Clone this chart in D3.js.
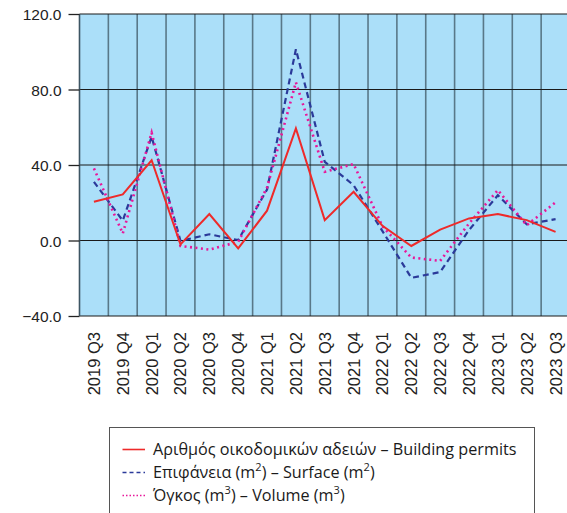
<!DOCTYPE html>
<html>
<head>
<meta charset="utf-8">
<script src="https://cdn.jsdelivr.net/npm/d3@7"></script>
<style>
  body { margin: 0; background: #fff; }
  svg { display: block; }
  .tick text { font-family: "Liberation Sans", Arial, sans-serif; fill: #222; }
</style>
</head>
<body>
<div id="chart"></div>
<script>
// Quarterly % change, building activity
const quarters = ["2019 Q3", "2019 Q4", "2020 Q1", "2020 Q2", "2020 Q3", "2020 Q4",
  "2021 Q1", "2021 Q2", "2021 Q3", "2021 Q4", "2022 Q1", "2022 Q2", "2022 Q3",
  "2022 Q4", "2023 Q1", "2023 Q2", "2023 Q3"];
const permits = [20.5, 24.4, 42.5, -2.1, 14.0, -4.2, 15.8, 59.4, 10.8, 25.8, 7.8, -2.9, 5.8, 11.7, 14.0, 10.8, 4.6];
const surface = [31.1, 10.5, 55.0, -0.2, 3.3, 0.2, 27.0, 101.3, 41.7, 29.3, 5.0, -19.8, -16.7, 5.5, 24.0, 8.6, 11.3];
const volume = [38.2, 3.7, 57.1, -2.9, -4.8, -0.7, 28.0, 83.8, 36.4, 40.5, 7.5, -9.0, -10.8, 9.0, 26.7, 8.1, 20.2];
const yTicks = [-40, 0, 40, 80, 120];

const W = 567, H = 513;
const margin = { top: 14, left: 79.5, right: -3, bottom: 197 };
const width = W - margin.left - margin.right,
  height = H - margin.top - margin.bottom;

const svg = d3.select("#chart").append("svg")
  .attr("width", W).attr("height", H);

const g = svg.append("g")
  .attr("transform", "translate(" + margin.left + "," + margin.top + ")");

const xScale = d3.scaleBand().domain(quarters).range([0, width]);
const yScale = d3.scaleLinear().domain([-40, 120]).range([height, 0]);

// plot background
g.append("rect")
  .attr("width", width).attr("height", height)
  .attr("fill", "#abdff9");

// vertical grid between quarters
g.selectAll(".vgrid")
  .data(quarters.slice(1))
  .join("line")
    .attr("class", "vgrid")
    .attr("x1", d => xScale(d)).attr("x2", d => xScale(d))
    .attr("y1", 0).attr("y2", height)
    .attr("stroke", "#3d5563").attr("stroke-opacity", 0.75).attr("stroke-width", 1.6);

// horizontal grid
g.selectAll(".hgrid")
  .data(yTicks)
  .join("line")
    .attr("class", "hgrid")
    .attr("x1", 0).attr("x2", width)
    .attr("y1", d => yScale(d)).attr("y2", d => yScale(d))
    .attr("stroke", "#1a1a1a").attr("stroke-width", 1.1);

// left border
g.append("line")
  .attr("x1", 0).attr("x2", 0).attr("y1", 0).attr("y2", height)
  .attr("stroke", "#3d5563").attr("stroke-width", 1.6);

// Y axis
const yAxis = g.append("g")
  .call(d3.axisLeft(yScale).tickValues(yTicks).tickSize(11).tickPadding(7)
    .tickFormat(d3.format(".1f")));
yAxis.select(".domain").remove();
yAxis.selectAll(".tick line").attr("stroke", "#222").attr("stroke-width", 1.3);
yAxis.selectAll("text").attr("font-size", 15.5).attr("dy", "0.36em");

// X axis labels (rotated)
const xAxis = g.append("g")
  .attr("transform", "translate(0," + height + ")")
  .call(d3.axisBottom(xScale).tickSize(0));
xAxis.select(".domain").remove();
xAxis.selectAll("text")
  .attr("font-size", 16.5)
  .style("text-anchor", "end")
  .attr("transform", "rotate(-90)")
  .attr("x", -16).attr("y", 0).attr("dy", "0.36em");

const X = (d, i) => xScale(quarters[i]) + xScale.bandwidth() / 2;
const line = d3.line().x((d, i) => X(d, i)).y(d => yScale(d));

const series = [
  { values: surface, color: "#2b3a9a", dash: "6,4", width: 2.2 },
  { values: volume, color: "#e8179a", dash: "2,3.5", width: 2.6 },
  { values: permits, color: "#ee2a2a", dash: null, width: 2 }
];

series.forEach(s => {
  g.append("path")
    .attr("d", line(s.values))
    .attr("fill", "none")
    .attr("stroke", s.color)
    .attr("stroke-width", s.width)
    .attr("stroke-dasharray", s.dash);
});

// Legend
const legend = svg.append("g");
legend.append("rect")
  .attr("x", 109.5).attr("y", 427.5).attr("width", 425).attr("height", 100)
  .attr("fill", "#fff").attr("stroke", "#555").attr("stroke-width", 1);

const legendItems = [
  { color: "#ee2a2a", dash: null, w: 1.6, parts: [["Αριθμός οικοδομικών αδειών – Building permits"]] },
  { color: "#2b3a9a", dash: "4,3", w: 1.6, parts: [["Επιφάνεια (m"], ["2", true], [") – Surface (m"], ["2", true], [")"]] },
  { color: "#e8179a", dash: "1.5,2", w: 1.6, parts: [["Όγκος (m"], ["3", true], [") – Volume (m"], ["3", true], [")"]] }
];

legendItems.forEach((item, i) => {
  const cy = 449.5 + i * 23;
  legend.append("line")
    .attr("x1", 122.5).attr("x2", 145).attr("y1", cy).attr("y2", cy)
    .attr("stroke", item.color).attr("stroke-width", item.w)
    .attr("stroke-dasharray", item.dash);
  const t = legend.append("text")
    .attr("x", 153).attr("y", cy).attr("dy", "0.36em")
    .attr("font-family", "'Open Sans', 'Noto Sans', sans-serif")
    .attr("font-size", 16.2).attr("fill", "#1a1a1a");
  item.parts.forEach(p => {
    const ts = t.append("tspan").text(p[0]);
    if (p[1]) ts.attr("font-size", 11).attr("baseline-shift", "super");
  });
});
</script>
</body>
</html>
